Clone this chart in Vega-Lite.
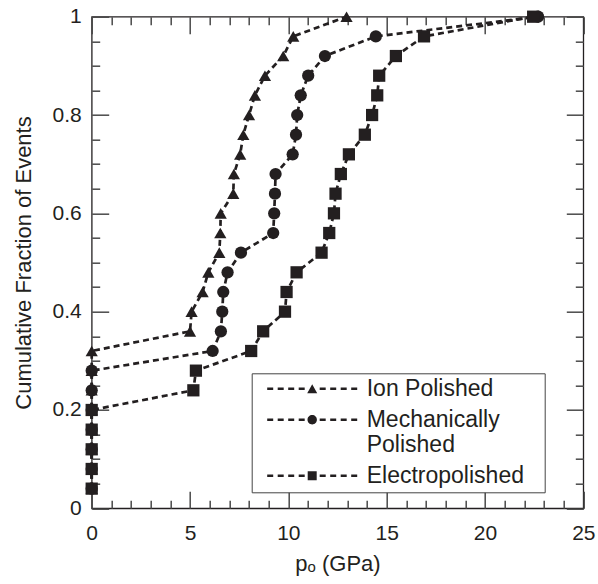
{
  "$schema": "https://vega.github.io/schema/vega-lite/v6.json",
  "width": 491.6,
  "height": 491.6,
  "autosize": "none",
  "padding": {"left": 91.7, "top": 16.7, "right": 14.7, "bottom": 75.7},
  "background": "white",
  "config": {
    "view": {"stroke": "#231f20", "strokeWidth": 1.3},
    "font": "Liberation Sans",
    "axis": {
      "domain": false,
      "ticks": true,
      "tickColor": "#4a4a4a",
      "tickOpacity": 1,
      "tickWidth": 1.5,
      "labelColor": "#231f20",
      "titleColor": "#231f20",
      "labelFont": "Liberation Sans",
      "titleFont": "Liberation Sans",
      "titleFontWeight": "normal",
      "grid": false,
      "labelFlush": false,
      "labelOverlap": false
    }
  },
  "data": {
    "values": [
      {"s": "Ion Polished", "p": 0, "f": 0.04},
      {"s": "Ion Polished", "p": 0, "f": 0.08},
      {"s": "Ion Polished", "p": 0, "f": 0.12},
      {"s": "Ion Polished", "p": 0, "f": 0.16},
      {"s": "Ion Polished", "p": 0, "f": 0.20},
      {"s": "Ion Polished", "p": 0, "f": 0.24},
      {"s": "Ion Polished", "p": 0, "f": 0.28},
      {"s": "Ion Polished", "p": 0, "f": 0.32},
      {"s": "Ion Polished", "p": 5.0, "f": 0.36},
      {"s": "Ion Polished", "p": 5.08, "f": 0.40},
      {"s": "Ion Polished", "p": 5.64, "f": 0.44},
      {"s": "Ion Polished", "p": 5.93, "f": 0.48},
      {"s": "Ion Polished", "p": 6.49, "f": 0.52},
      {"s": "Ion Polished", "p": 6.54, "f": 0.56},
      {"s": "Ion Polished", "p": 6.56, "f": 0.60},
      {"s": "Ion Polished", "p": 7.2, "f": 0.64},
      {"s": "Ion Polished", "p": 7.23, "f": 0.68},
      {"s": "Ion Polished", "p": 7.55, "f": 0.72},
      {"s": "Ion Polished", "p": 7.71, "f": 0.76},
      {"s": "Ion Polished", "p": 8.0, "f": 0.80},
      {"s": "Ion Polished", "p": 8.3, "f": 0.84},
      {"s": "Ion Polished", "p": 8.81, "f": 0.88},
      {"s": "Ion Polished", "p": 9.74, "f": 0.92},
      {"s": "Ion Polished", "p": 10.25, "f": 0.96},
      {"s": "Ion Polished", "p": 12.96, "f": 1.0},
      {"s": "Mechanically Polished", "p": 0, "f": 0.04},
      {"s": "Mechanically Polished", "p": 0, "f": 0.08},
      {"s": "Mechanically Polished", "p": 0, "f": 0.12},
      {"s": "Mechanically Polished", "p": 0, "f": 0.16},
      {"s": "Mechanically Polished", "p": 0, "f": 0.20},
      {"s": "Mechanically Polished", "p": 0, "f": 0.24},
      {"s": "Mechanically Polished", "p": 0, "f": 0.28},
      {"s": "Mechanically Polished", "p": 6.15, "f": 0.32},
      {"s": "Mechanically Polished", "p": 6.57, "f": 0.36},
      {"s": "Mechanically Polished", "p": 6.64, "f": 0.40},
      {"s": "Mechanically Polished", "p": 6.69, "f": 0.44},
      {"s": "Mechanically Polished", "p": 6.91, "f": 0.48},
      {"s": "Mechanically Polished", "p": 7.59, "f": 0.52},
      {"s": "Mechanically Polished", "p": 9.23, "f": 0.56},
      {"s": "Mechanically Polished", "p": 9.28, "f": 0.60},
      {"s": "Mechanically Polished", "p": 9.32, "f": 0.64},
      {"s": "Mechanically Polished", "p": 9.35, "f": 0.68},
      {"s": "Mechanically Polished", "p": 10.22, "f": 0.72},
      {"s": "Mechanically Polished", "p": 10.39, "f": 0.76},
      {"s": "Mechanically Polished", "p": 10.45, "f": 0.80},
      {"s": "Mechanically Polished", "p": 10.63, "f": 0.84},
      {"s": "Mechanically Polished", "p": 11.01, "f": 0.88},
      {"s": "Mechanically Polished", "p": 11.86, "f": 0.92},
      {"s": "Mechanically Polished", "p": 14.45, "f": 0.96},
      {"s": "Mechanically Polished", "p": 22.7, "f": 1.0},
      {"s": "Electropolished", "p": 0, "f": 0.04},
      {"s": "Electropolished", "p": 0, "f": 0.08},
      {"s": "Electropolished", "p": 0, "f": 0.12},
      {"s": "Electropolished", "p": 0, "f": 0.16},
      {"s": "Electropolished", "p": 0, "f": 0.20},
      {"s": "Electropolished", "p": 5.17, "f": 0.24},
      {"s": "Electropolished", "p": 5.30, "f": 0.28},
      {"s": "Electropolished", "p": 8.11, "f": 0.32},
      {"s": "Electropolished", "p": 8.72, "f": 0.36},
      {"s": "Electropolished", "p": 9.83, "f": 0.40},
      {"s": "Electropolished", "p": 9.91, "f": 0.44},
      {"s": "Electropolished", "p": 10.42, "f": 0.48},
      {"s": "Electropolished", "p": 11.69, "f": 0.52},
      {"s": "Electropolished", "p": 12.08, "f": 0.56},
      {"s": "Electropolished", "p": 12.32, "f": 0.60},
      {"s": "Electropolished", "p": 12.40, "f": 0.64},
      {"s": "Electropolished", "p": 12.67, "f": 0.68},
      {"s": "Electropolished", "p": 13.08, "f": 0.72},
      {"s": "Electropolished", "p": 13.89, "f": 0.76},
      {"s": "Electropolished", "p": 14.26, "f": 0.80},
      {"s": "Electropolished", "p": 14.52, "f": 0.84},
      {"s": "Electropolished", "p": 14.62, "f": 0.88},
      {"s": "Electropolished", "p": 15.47, "f": 0.92},
      {"s": "Electropolished", "p": 16.90, "f": 0.96},
      {"s": "Electropolished", "p": 22.45, "f": 1.0}
    ]
  },
  "layer": [
    {
      "mark": {"type": "line", "strokeDash": [6, 4], "strokeWidth": 2.7, "color": "#231f20"},
      "encoding": {
        "x": {
          "field": "p", "type": "quantitative",
          "scale": {"domain": [0, 25], "nice": false, "zero": false},
          "axis": {
            "orient": "bottom",
            "values": [0, 5, 10, 15, 20, 25],
            "offset": -17,
            "tickSize": 17,
            "labelFontSize": 21,
            "labelPadding": 14,
            "title": "pₒ (GPa)",
            "titleFontSize": 22,
            "titlePadding": 10
          }
        },
        "y": {
          "field": "f", "type": "quantitative",
          "scale": {"domain": [0, 1], "nice": false},
          "axis": {
            "orient": "left",
            "values": [0, 0.2, 0.4, 0.6, 0.8, 1],
            "format": ".1~f",
            "offset": -17,
            "tickSize": 17,
            "labelFontSize": 21,
            "labelPadding": 10.5,
            "title": "Cumulative Fraction of Events",
            "titleFontSize": 22,
            "titlePadding": 17
          }
        },
        "detail": {"field": "s"},
        "order": {"field": "f", "type": "quantitative"}
      }
    },
    {
      "mark": {"type": "point", "filled": true, "opacity": 1, "color": "#231f20", "size": 150},
      "encoding": {
        "x": {
          "field": "p", "type": "quantitative",
          "axis": {
            "orient": "bottom",
            "values": [1,2,3,4,6,7,8,9,11,12,13,14,16,17,18,19,21,22,23,24],
            "offset": -8,
            "tickSize": 8,
            "labels": false,
            "title": null
          }
        },
        "y": {
          "field": "f", "type": "quantitative",
          "axis": {
            "orient": "left",
            "values": [0.05,0.1,0.15,0.25,0.3,0.35,0.45,0.5,0.55,0.65,0.7,0.75,0.85,0.9,0.95],
            "offset": -8,
            "tickSize": 8,
            "labels": false,
            "title": null
          }
        },
        "shape": {
          "field": "s", "type": "nominal",
          "scale": {"domain": ["Ion Polished", "Mechanically Polished", "Electropolished"], "range": ["triangle-up", "circle", "square"]},
          "legend": null
        }
      }
    },
    {
      "mark": {"type": "point", "filled": true, "opacity": 0, "color": "#231f20", "size": 4},
      "encoding": {
        "x": {
          "field": "p", "type": "quantitative",
          "axis": {
            "orient": "top",
            "values": [0, 5, 10, 15, 20, 25],
            "offset": -17,
            "tickSize": 17,
            "labels": false,
            "title": null
          }
        },
        "y": {
          "field": "f", "type": "quantitative",
          "axis": {
            "orient": "right",
            "values": [0, 0.2, 0.4, 0.6, 0.8, 1],
            "offset": -17,
            "tickSize": 17,
            "labels": false,
            "title": null
          }
        },
        "shape": {
          "field": "s", "type": "nominal",
          "scale": {
            "domain": ["Ion Polished", "Mechanically Polished", "Electropolished"],
            "range": [
              "M0,-1.3h6v2.6h-6z M10.5,-1.3h6v2.6h-6z M21,-1.3h6v2.6h-6z M31.5,-1.3h6v2.6h-6z M40,4.5 L50,4.5 L45,-4.5 Z M52.5,-1.3h6v2.6h-6z M63,-1.3h6v2.6h-6z M73.5,-1.3h6v2.6h-6z M84,-1.3h6v2.6h-6z M273,0",
              "M0,-1.3h6v2.6h-6z M10.5,-1.3h6v2.6h-6z M21,-1.3h6v2.6h-6z M31.5,-1.3h6v2.6h-6z M40.3,0 A4.7,4.7 0 1,0 49.7,0 A4.7,4.7 0 1,0 40.3,0 Z M52.5,-1.3h6v2.6h-6z M63,-1.3h6v2.6h-6z M73.5,-1.3h6v2.6h-6z M84,-1.3h6v2.6h-6z M273,0",
              "M0,-1.3h6v2.6h-6z M10.5,-1.3h6v2.6h-6z M21,-1.3h6v2.6h-6z M31.5,-1.3h6v2.6h-6z M40.5,-4.5h9v9h-9z M52.5,-1.3h6v2.6h-6z M63,-1.3h6v2.6h-6z M73.5,-1.3h6v2.6h-6z M84,-1.3h6v2.6h-6z M273,0"
            ]
          },
          "legend": {
            "orient": "none",
            "legendX": 160,
            "legendY": 356.6,
            "title": null,
            "padding": 4,
            "strokeColor": "#444444",
            "fillColor": "white",
            "symbolSize": 4,
            "symbolOpacity": 1,
            "symbolFillColor": "#231f20",
            "symbolStrokeColor": "#231f20",
            "symbolStrokeWidth": 0,
            "labelFont": "Liberation Sans",
            "labelFontSize": 23,
            "labelColor": "#231f20",
            "labelOffset": 88,
            "labelLimit": 0,
            "labelBaseline": "middle",
            "rowPadding": 7,
            "labelExpr": "datum.label == 'Mechanically Polished' ? ['Mechanically', 'Polished'] : datum.label"
          }
        }
      }
    },
    {
      "mark": {"type": "point", "opacity": 0, "size": 1},
      "encoding": {
        "x": {
          "field": "p", "type": "quantitative",
          "axis": {
            "orient": "top",
            "values": [1,2,3,4,6,7,8,9,11,12,13,14,16,17,18,19,21,22,23,24],
            "offset": -8,
            "tickSize": 8,
            "labels": false,
            "title": null
          }
        },
        "y": {
          "field": "f", "type": "quantitative",
          "axis": {
            "orient": "right",
            "values": [0.05,0.1,0.15,0.25,0.3,0.35,0.45,0.5,0.55,0.65,0.7,0.75,0.85,0.9,0.95],
            "offset": -8,
            "tickSize": 8,
            "labels": false,
            "title": null
          }
        }
      }
    }
  ],
  "resolve": {
    "scale": {"shape": "independent"},
    "axis": {"x": "independent", "y": "independent"}
  }
}
